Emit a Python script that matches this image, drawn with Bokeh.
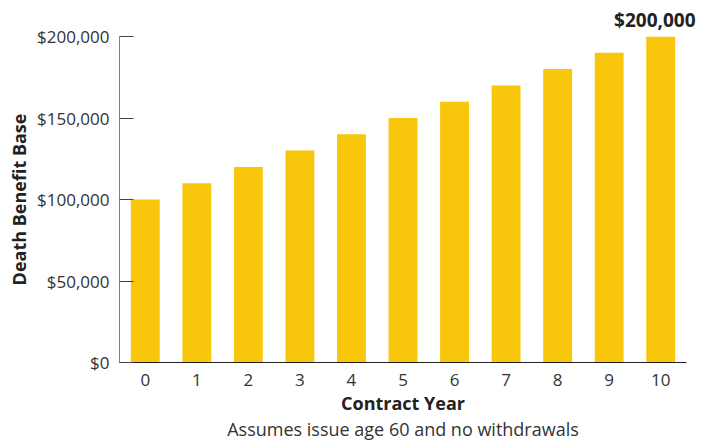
from bokeh.plotting import figure
from bokeh.models import ColumnDataSource, Title, FixedTicker, NumeralTickFormatter, Range1d
from bokeh.embed import file_html
from bokeh.resources import INLINE

years = [str(i) for i in range(11)]
values = [100000, 110000, 120000, 130000, 140000, 150000, 160000, 170000, 180000, 190000, 200000]
y_ticks = [0, 50000, 100000, 150000, 200000]
top_label = "$200,000"
x_title = "Contract Year"
y_title = "Death Benefit Base"
subtitle = "Assumes issue age 60 and no withdrawals"

FONT = "Open Sans"
TXT = "#333333"

src = ColumnDataSource(dict(x=years, top=values))

p = figure(x_range=years, y_range=Range1d(0, 200000),
           output_backend="svg", toolbar_location=None,
           min_border_left=119, min_border_right=22, min_border_top=36, min_border_bottom=79,
           frame_width=567, frame_height=326)
p.x_range.range_padding = 0
p.vbar(x="x", top="top", width=0.56, source=src, color="#F8C60A", line_color=None)

p.outline_line_color = None
p.grid.visible = False
p.background_fill_color = "white"
p.border_fill_color = "white"

ya = p.yaxis[0]
ya.ticker = FixedTicker(ticks=y_ticks)
ya.formatter = NumeralTickFormatter(format="$0,0")
ya.major_tick_in = 14
ya.major_tick_out = 0
ya.minor_tick_line_color = None
ya.axis_line_color = "#808080"
ya.major_tick_line_color = "#444444"
ya.major_label_text_font = FONT
ya.major_label_text_font_size = "17px"
ya.major_label_text_color = TXT
ya.major_label_standoff = 10
ya.axis_label = y_title
ya.axis_label_text_font = FONT
ya.axis_label_text_font_style = "bold"
ya.axis_label_text_font_size = "18px"
ya.axis_label_text_color = "#222222"
ya.axis_label_standoff = 3

xa = p.xaxis[0]
xa.major_tick_line_color = None
xa.minor_tick_line_color = None
xa.major_tick_in = 0
xa.major_tick_out = 0
xa.axis_line_color = "#222222"
xa.major_label_text_font = FONT
xa.major_label_text_font_size = "17px"
xa.major_label_text_color = TXT
xa.major_label_standoff = 11
xa.axis_label = x_title
xa.axis_label_text_font = FONT
xa.axis_label_text_font_style = "bold"
xa.axis_label_text_font_size = "18px"
xa.axis_label_text_color = "#222222"
xa.axis_label_standoff = 2

st = Title(text=subtitle, align="center", text_font=FONT, text_font_size="18px",
           text_font_style="normal", text_color=TXT, standoff=-6)
p.add_layout(st, "below")

top = Title(text=top_label, align="right", offset=-9, text_font=FONT, text_font_size="19px",
            text_font_style="bold", text_color="#222222", standoff=8)
p.add_layout(top, "above")

open("out.html", "w").write(file_html(p, INLINE))
